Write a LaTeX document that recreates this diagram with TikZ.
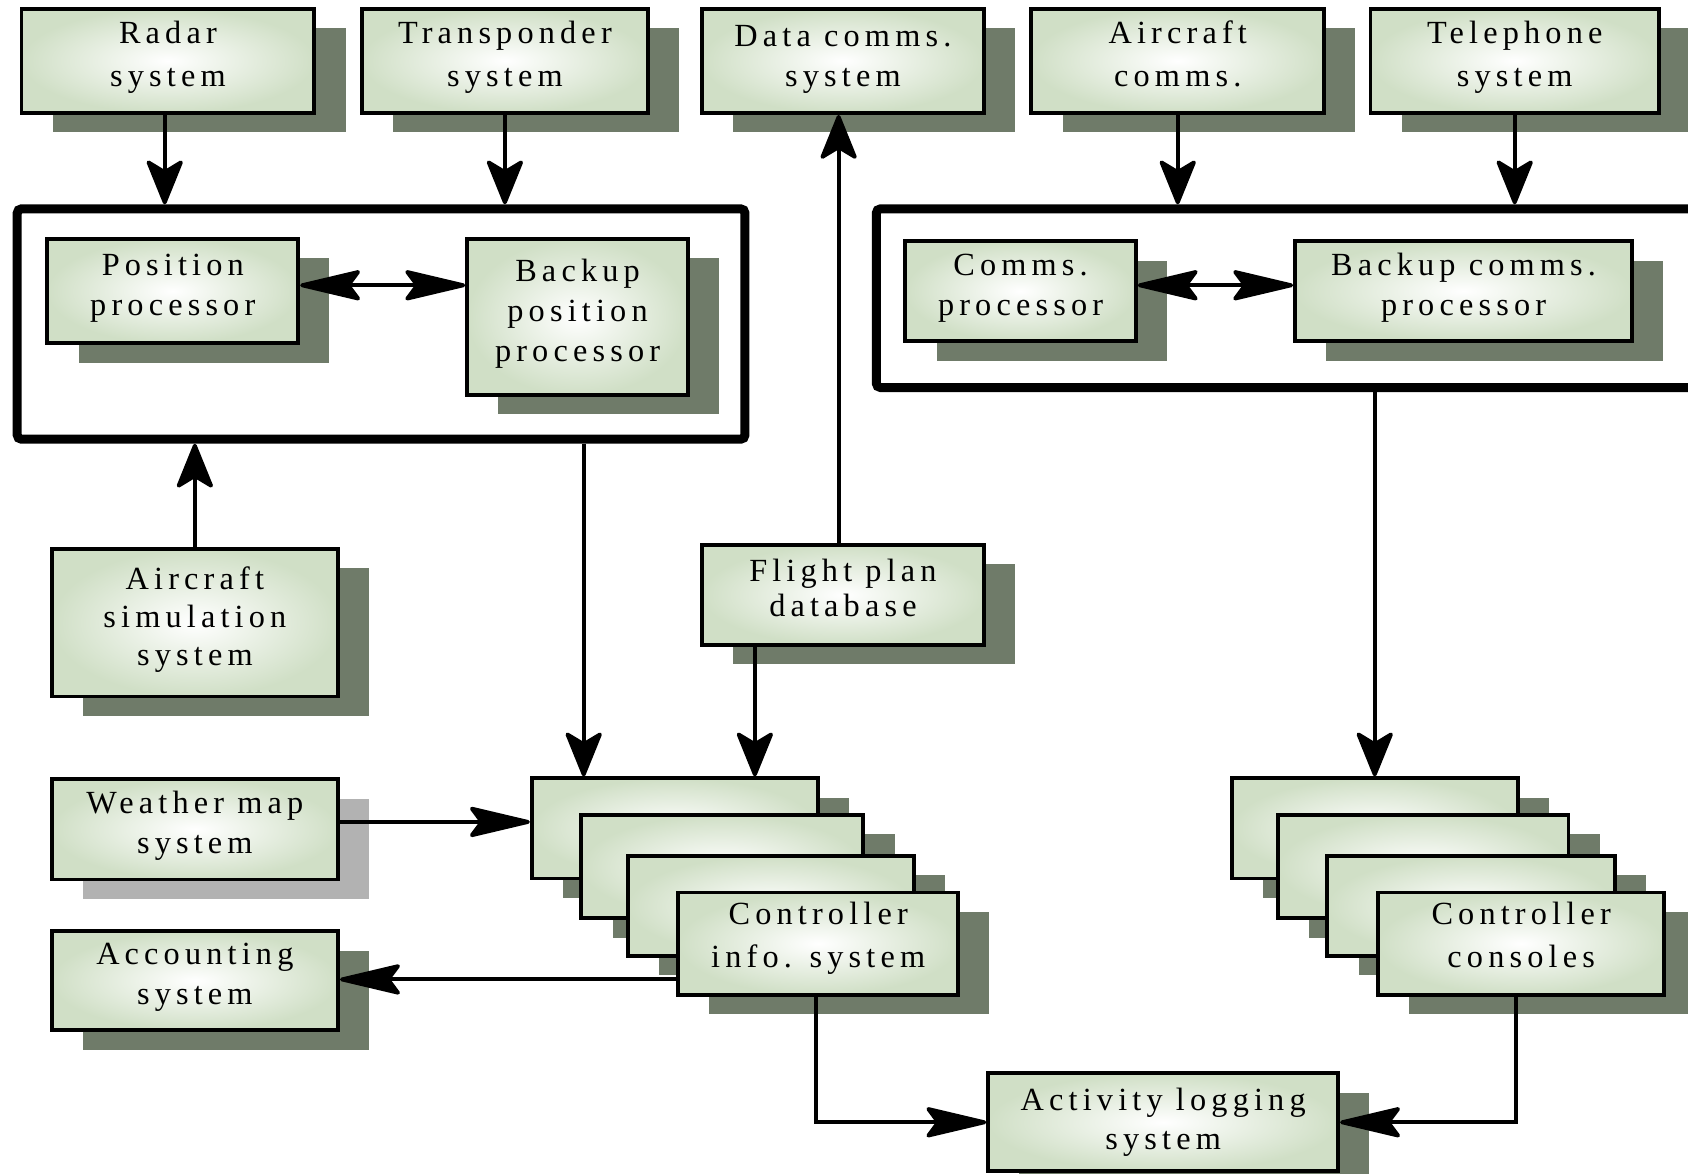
\documentclass[tikz,border=0pt]{standalone}
\usepackage{fontspec}
\setmainfont{Liberation Serif}[LetterSpace=16]
\usetikzlibrary{arrows.meta,shadows,calc}

\definecolor{shadowgreen}{RGB}{111,123,105}
\definecolor{shadowgrey}{RGB}{178,178,178}
\definecolor{boxgreen}{RGB}{208,223,198}

\tikzset{
  % place a node by its left, top, right and bottom edges
  spanbox/.style n args={4}{
    at={({(#1+#3)/2},{(#2+#4)/2})},
    minimum width={(#3-#1)*0.5pt},
    minimum height={(#4-#2)*0.5pt}},
  sysbox/.style={draw, line width=1.8pt, shade, shading=radial,
    inner color=white, outer color=boxgreen, align=center, inner sep=0pt,
    text depth=6.3pt, font=\fontsize{15}{18.5}\selectfont},
  darkshadow/.style={drop shadow={shadow xshift=14.5pt, shadow yshift=-9pt,
    fill=shadowgreen, opacity=1}},
  lightshadow/.style={drop shadow={shadow xshift=14.5pt, shadow yshift=-9pt,
    fill=shadowgrey, opacity=1}},
  sys/.style={sysbox, darkshadow},
  wide/.style={font=\fontsize{15}{20}\selectfont},
  groupframe/.style={draw, line width=4.2pt, rounded corners=2pt, inner sep=0pt},
  conn/.style={line width=1.8pt},
  vtip/.tip={Stealth[length=23pt, width=18.5pt, inset=5.5pt, round]},
  htip/.tip={Stealth[length=32pt, width=15pt, inset=5.5pt, round]},
  varrow/.style={conn, -vtip},
  harrow/.style={conn, -htip},
  hboth/.style={conn, htip-htip},
}

\begin{document}
\begin{tikzpicture}[x=0.5pt, y=-0.5pt]
\useasboundingbox (0,0) rectangle (1568,1090);
\clip (0,0) rectangle (1568,1090);

% processor groups
\node[groupframe, spanbox={16}{194}{692}{408}] (lframe) {};
\node[groupframe, spanbox={814}{194}{1600}{360}] (rframe) {};

% external systems along the top
\node[sys, wide, spanbox={20}{8}{292}{105}] (radar) {Radar\\system};
\node[sys, wide, spanbox={336}{8}{602}{105}] (trans) {Transponder\\system};
\node[sys, wide, text depth=4.3pt, font=\fontsize{15}{18.5}\selectfont,
      spanbox={652}{8}{914}{105}] (datac) {Data comms.\\system};
\node[sys, wide, text depth=7pt, spanbox={958}{8}{1230}{105}] (acomm) {Aircraft\\comms.};
\node[sys, wide, spanbox={1273}{8}{1541}{105}] (tele) {Telephone\\system};

% processors
\node[sys, spanbox={44}{222}{277}{319}] (pp) {Position\\processor};
\node[sys, spanbox={434}{222}{639}{367}] (bpp) {Backup\\position\\processor};
\node[sys, spanbox={841}{224}{1055}{317}] (cp) {Comms.\\processor};
\node[sys, spanbox={1203}{224}{1516}{317}] (bcp) {Backup comms.\\processor};

% other systems
\node[sys, font=\fontsize{15}{17.5}\selectfont, spanbox={48}{510}{314}{647}] (asim) {Aircraft\\simulation\\system};
\node[sys, font=\fontsize{15}{16.5}\selectfont, spanbox={652}{506}{914}{599}] (fpd) {Flight plan\\database};
\node[sysbox, lightshadow, spanbox={48}{724}{314}{817}] (wm) {Weather map\\system};
\node[sys, spanbox={48}{865}{314}{957}] (acct) {Accounting\\system};

% controller information systems
\node[sys, spanbox={494}{723}{760}{816}] (cis1) {};
\node[sys, spanbox={540}{757}{802}{853}] (cis2) {};
\node[sys, spanbox={583}{795}{849}{888}] (cis3) {};
\node[sys, wide, text depth=8pt, spanbox={630}{829}{890}{924}] (cis4) {Controller\\info. system};

% controller consoles
\node[sys, spanbox={1144}{723}{1410}{816}] (cc1) {};
\node[sys, spanbox={1187}{757}{1457}{853}] (cc2) {};
\node[sys, spanbox={1233}{795}{1500}{888}] (cc3) {};
\node[sys, wide, text depth=8pt, spanbox={1280}{829}{1546}{924}] (cc4) {Controller\\consoles};

\node[sys, text depth=3.3pt, spanbox={918}{997}{1243}{1088}] (als) {Activity logging\\system};

% inputs to the processor groups
\draw[varrow] ([xshift=-1.5pt]radar.south) -- ([xshift=-1.5pt]radar.south |- lframe.north);
\draw[varrow] (trans.south) -- (trans.south |- lframe.north);
\draw[varrow] (acomm.south) -- (acomm.south |- rframe.north);
\draw[varrow] (tele.south) -- (tele.south |- rframe.north);
\draw[varrow] (asim.north) -- (asim.north |- lframe.south);

% primary and backup processors
\draw[hboth] ([yshift=2.75pt]pp.east) -- ([yshift=2.75pt]pp.east -| bpp.west);
\draw[hboth] ([yshift=2.75pt]cp.east) -- ([yshift=2.75pt]cp.east -| bcp.west);

% flight plan database
\draw[varrow] ([xshift=-2pt]fpd.north) -- ([xshift=-2pt]datac.south);
\draw[varrow] ([xshift=25.5pt]fpd.south west) -- ([xshift=25.5pt]fpd.south west |- cis1.north);

% into the controller stacks
\draw[varrow] ([xshift=25pt]cis1.north west |- lframe.south) -- ([xshift=25pt]cis1.north west);
\draw[varrow] (cc1.north |- rframe.south) -- (cc1.north);
\draw[harrow] ([yshift=3.5pt]wm.east) -- ([yshift=3.5pt]wm.east -| cis1.west);
\draw[harrow] ([yshift=8pt]cis4.south west) -- ([yshift=8pt]cis4.south west -| acct.east);

% activity logging
\draw[harrow] ([xshift=-1pt]cis4.south) |- (als.west);
\draw[harrow] ([xshift=-2.5pt]cc4.south) |- (als.east);
\end{tikzpicture}
\end{document}
